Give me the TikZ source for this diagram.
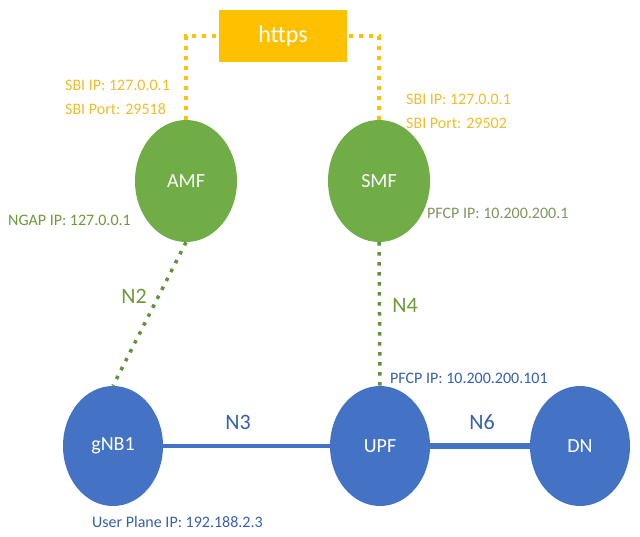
\documentclass[tikz,border=0pt]{standalone}
\usepackage{fontspec}
\setmainfont{Carlito}
\usetikzlibrary{shapes.geometric}
\definecolor{gfill}{HTML}{70AD47}
\definecolor{bfill}{HTML}{4472C4}
\definecolor{gold}{HTML}{FFC000}
\definecolor{goldtxt}{HTML}{F2BC2A}
\definecolor{gtxt}{HTML}{6E9A3C}
\definecolor{gtxt2}{HTML}{7E9660}
\definecolor{btxt}{HTML}{3660B0}
\tikzset{
  gnode/.style={ellipse,fill=gfill,text=white,inner sep=0pt,minimum width=102pt,minimum height=122pt,font=\fontsize{20}{22}\selectfont},
  bnode/.style={ellipse,fill=bfill,text=white,inner sep=0pt,minimum width=100pt,minimum height=120pt,font=\fontsize{20}{22}\selectfont},
  goldline/.style={draw=gold,line width=4pt,dash pattern=on 4pt off 6pt},
  gline/.style={draw=gfill!85!black,line width=3.5pt,dash pattern=on 3.5pt off 6.5pt},
  lbl/.style={inner sep=0pt,anchor=west,font=\fontsize{16}{18}\selectfont},
  sbi/.style={inner sep=0pt,anchor=west,text=goldtxt,font=\fontsize{16}{18}\selectfont},
  big/.style={inner sep=0pt,font=\fontsize{22}{24}\selectfont},
}
\begin{document}
\begin{tikzpicture}[x=1pt,y=-1pt]
\useasboundingbox (0,0) rectangle (640,536);
\fill[white] (0,0) rectangle (640,536);
% nodes
\node[rectangle,fill=gold,text=white,minimum width=128pt,minimum height=52pt,inner sep=0pt,font=\fontsize{24}{26}\selectfont] (https) at (283,36) {https};
\node[gnode] (amf) at (186,181) {AMF};
\node[gnode] (smf) at (379,181) {SMF};
\node[bnode] (gnb) at (113,446) {gNB1};
\node[bnode] (upf) at (380,446) {UPF};
\node[bnode] (dn) at (580,446) {DN};
% connectors
\draw[goldline] (amf.north) |- (https.west);
\draw[goldline] (smf.north) |- (https.east);
\draw[gline] (amf.south) -- (gnb.north);
\draw[gline] (smf.south) -- (upf.north);
\draw[bfill,line width=3.5pt] (gnb) -- (upf);
\draw[bfill,line width=5.5pt] (upf) -- (dn);
% labels
\node[sbi] (l1) at (65,85) {SBI IP: 127.0.0.1};
\node[sbi] (l2) at (65,109) {SBI Port: 29518};
\node[sbi] (l3) at (406,99) {SBI IP: 127.0.0.1};
\node[sbi] (l4) at (406,123) {SBI Port: 29502};
\node[lbl,text=gtxt] (l5) at (8,220) {NGAP IP: 127.0.0.1};
\node[lbl,text=gtxt2] (l6) at (427,213) {PFCP IP: 10.200.200.1};
\node[lbl,text=btxt] (l7) at (390,378) {PFCP IP: 10.200.200.101};
\node[lbl,text=btxt] (l8) at (92,522) {User Plane IP: 192.188.2.3};
\node[big,text=gtxt] (n2) at (134,296) {N2};
\node[big,text=gtxt] (n4) at (405,305) {N4};
\node[big,text=btxt] (n3) at (238,422) {N3};
\node[big,text=btxt] (n6) at (482,422) {N6};
\end{tikzpicture}
\end{document}
